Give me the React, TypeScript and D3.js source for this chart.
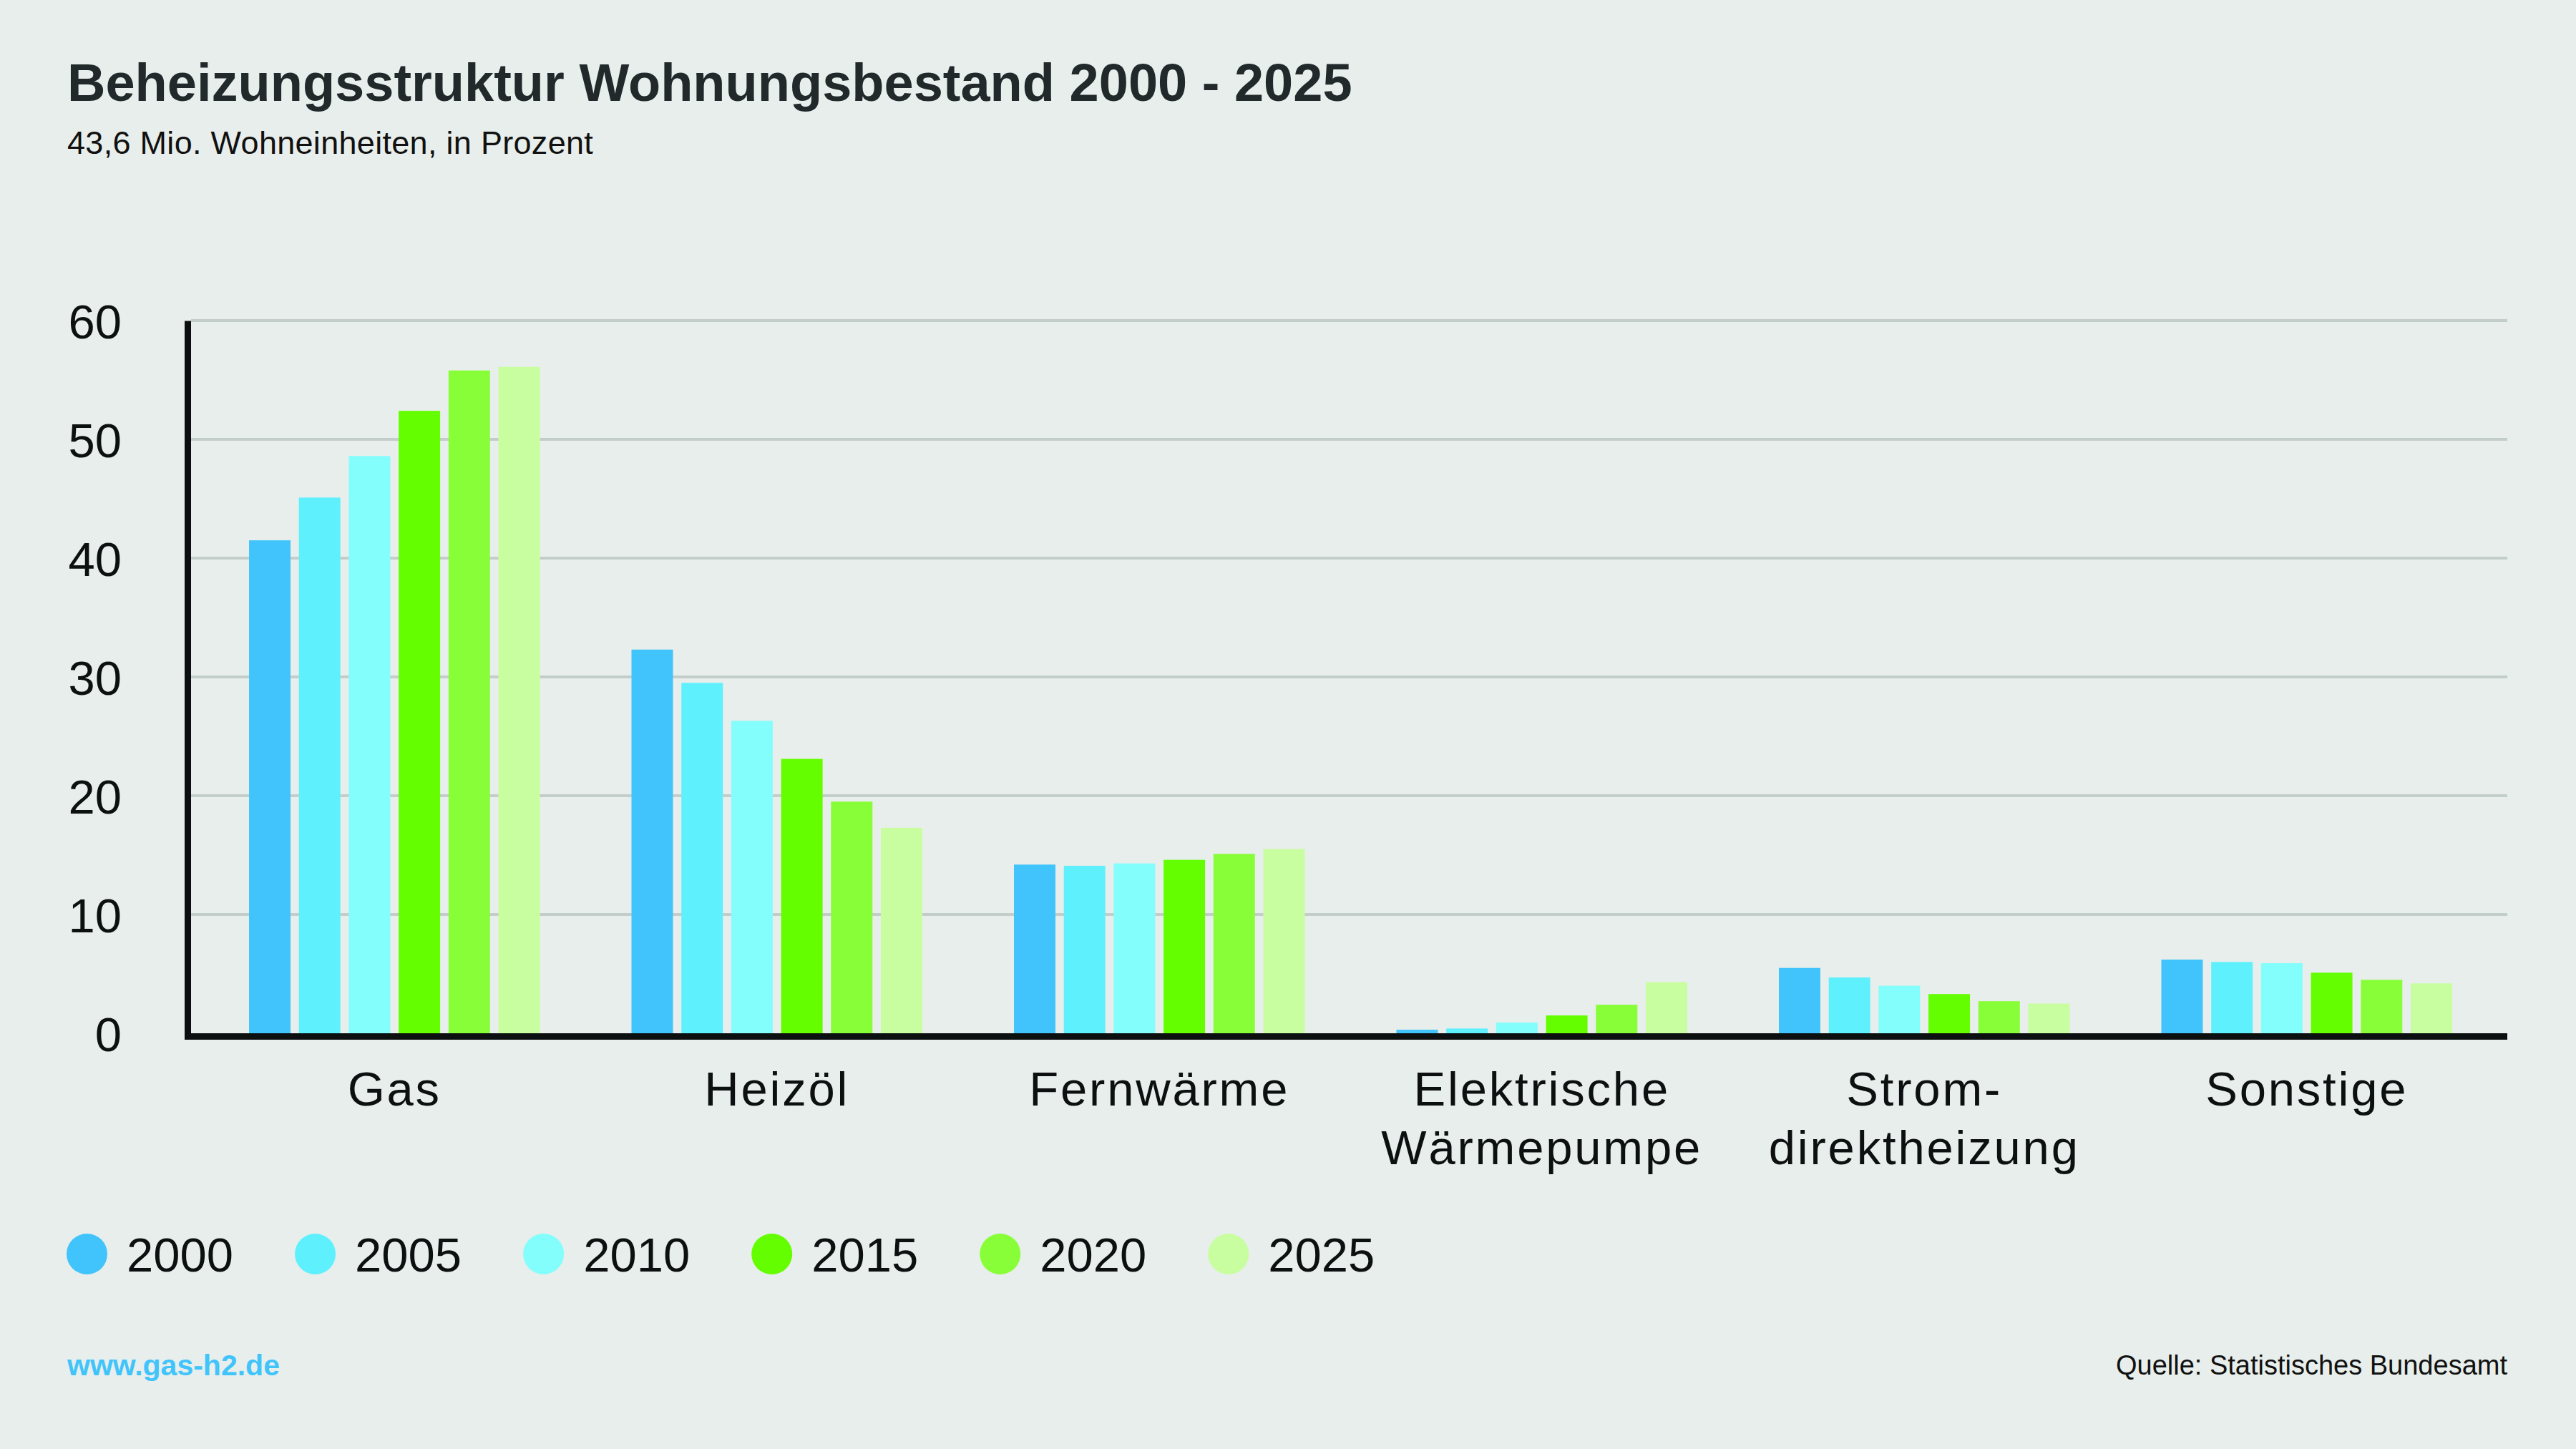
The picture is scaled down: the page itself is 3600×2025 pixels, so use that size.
import { useRef, useEffect } from 'react';
import * as d3 from 'd3';

// Beheizungsstruktur Wohnungsbestand, Anteile in Prozent
const categories = ['Gas', 'Heizöl', 'Fernwärme', 'Elektrische Wärmepumpe', 'Stromdirektheizung', 'Sonstige'];
const categoryLines = [['Gas'], ['Heizöl'], ['Fernwärme'], ['Elektrische', 'Wärmepumpe'], ['Strom-', 'direktheizung'], ['Sonstige']];
const years = ['2000', '2005', '2010', '2015', '2020', '2025'];
const share2000 = [41.5, 32.3, 14.2, 0.3, 5.5, 6.2];
const share2005 = [45.1, 29.5, 14.1, 0.4, 4.7, 6.0];
const share2010 = [48.6, 26.3, 14.3, 0.9, 4.0, 5.9];
const share2015 = [52.4, 23.1, 14.6, 1.5, 3.3, 5.1];
const share2020 = [55.8, 19.5, 15.1, 2.4, 2.7, 4.5];
const share2025 = [56.1, 17.3, 15.5, 4.3, 2.5, 4.2];
const yearColors = ['#40c4fb', '#5ff0fe', '#84fefc', '#64fe00', '#88fe38', '#c8fe9f'];
const yTicks = [0, 10, 20, 30, 40, 50, 60];

const W = 3600;
const H = 2025;
const FONT = '"Liberation Sans", Arial, Helvetica, sans-serif';

export default function App() {
  const svgRef = useRef<SVGSVGElement>(null);

  useEffect(() => {
    if (!svgRef.current) return;
    const svg = d3.select(svgRef.current);
    svg.selectAll('*').remove();

    svg.append('rect').attr('width', W).attr('height', H).attr('fill', '#e8eeeb');

    svg.append('text').attr('x', 94).attr('y', 141)
      .attr('font-family', FONT).attr('font-weight', 700).attr('font-size', 74)
      .attr('fill', '#22292b').text('Beheizungsstruktur Wohnungsbestand 2000 - 2025');
    svg.append('text').attr('x', 94).attr('y', 215)
      .attr('font-family', FONT).attr('font-size', 45).attr('letter-spacing', 0.3)
      .attr('fill', '#111').text('43,6 Mio. Wohneinheiten, in Prozent');

    const plotLeft = 267;
    const plotRight = 3504;

    const y = d3.scaleLinear().domain([0, 60]).range([1444, 448]);
    const x0 = d3.scaleBand().domain(categories).range([284, 3491]).paddingInner(0.2395).paddingOuter(0.1198);
    const x1 = d3.scaleBand().domain(years).range([0, x0.bandwidth()]).paddingInner(0.168);

    // gridlines
    svg.append('g').selectAll('line').data(yTicks.filter((t) => t > 0)).join('line')
      .attr('x1', plotLeft).attr('x2', plotRight)
      .attr('y1', (d) => y(d)).attr('y2', (d) => y(d))
      .attr('stroke', '#c3cecb').attr('stroke-width', 4);

    // bars
    const seriesValues = [share2000, share2005, share2010, share2015, share2020, share2025];
    const series = years.map((year, i) => ({ year, color: yearColors[i], values: seriesValues[i] }));

    svg.append('g').selectAll('g').data(series).join('g')
      .attr('fill', (s) => s.color)
      .selectAll('rect')
      .data((s) => s.values.map((v, ci) => ({ cat: categories[ci], year: s.year, v })))
      .join('rect')
      .attr('x', (d) => (x0(d.cat) ?? 0) + (x1(d.year) ?? 0))
      .attr('y', (d) => y(d.v))
      .attr('width', x1.bandwidth())
      .attr('height', (d) => y(0) - y(d.v));

    // y axis
    const yAxis = svg.append('g').attr('transform', 'translate(262,0)')
      .call(d3.axisLeft(y).tickValues(yTicks).tickSize(0).tickSizeOuter(0).tickPadding(92).tickFormat((d) => `${d}`));
    yAxis.select('.domain').attr('stroke', '#0b0f0f').attr('stroke-width', 9);
    yAxis.selectAll('.tick text')
      .attr('font-family', FONT).attr('font-size', 67).attr('fill', '#0d1010').attr('dy', '0.36em');

    // x axis line
    svg.append('line').attr('x1', 258).attr('x2', plotRight)
      .attr('y1', y(0) + 4.5).attr('y2', y(0) + 4.5)
      .attr('stroke', '#0b0f0f').attr('stroke-width', 9);

    // category labels
    const labels = svg.append('g').selectAll('text').data(categories).join('text')
      .attr('text-anchor', 'middle')
      .attr('font-family', FONT).attr('font-size', 67).attr('letter-spacing', 2.8)
      .attr('fill', '#0d1010');
    labels.each(function (c, i) {
      const t = d3.select(this);
      const cx = (x0(c) ?? 0) + x0.bandwidth() / 2;
      categoryLines[i].forEach((line, li) => {
        t.append('tspan').attr('x', cx).attr('y', 1545 + li * 82).text(line);
      });
    });

    // legend
    const legend = svg.append('g');
    let lx = 93;
    const r = 28.5;
    series.forEach((s) => {
      legend.append('circle').attr('cx', lx + r).attr('cy', 1752.5).attr('r', r).attr('fill', s.color);
      const txt = legend.append('text').attr('x', lx + 2 * r + 27).attr('y', 1777)
        .attr('font-family', FONT).attr('font-size', 67)
        .attr('fill', '#0d1010').text(s.year);
      const tw = (txt.node() as SVGTextElement).getComputedTextLength();
      lx += 2 * r + 27 + tw + 86;
    });

    // footer
    svg.append('text').attr('x', 94).attr('y', 1922)
      .attr('font-family', FONT).attr('font-weight', 700).attr('font-size', 41)
      .attr('fill', '#40c4fb').text('www.gas-h2.de');
    svg.append('text').attr('x', plotRight).attr('y', 1921).attr('text-anchor', 'end')
      .attr('font-family', FONT).attr('font-size', 38)
      .attr('fill', '#111').text('Quelle: Statistisches Bundesamt');
  }, []);

  return (
    <svg ref={svgRef} width={W} height={H} style={{ position: 'absolute', left: 0, top: 0, display: 'block' }} />
  );
}
